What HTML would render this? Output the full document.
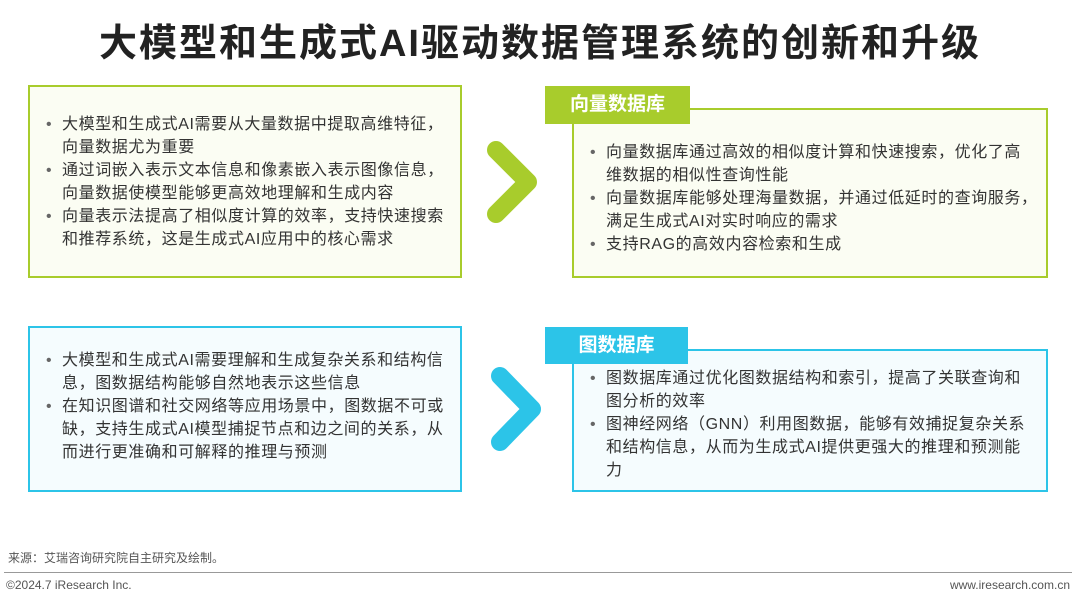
<!DOCTYPE html>
<html><head><meta charset="utf-8"><style>
body{margin:0;width:1080px;height:601px;background:#fff;position:relative;overflow:hidden;font-family:"Liberation Sans","Noto Sans CJK SC",sans-serif;color:#333}
.t{position:absolute;left:0;width:1080px;top:12px;text-align:center;font-size:38px;font-weight:bold;color:#222;letter-spacing:2px}
.box{position:absolute;box-sizing:border-box;border:2px solid;font-size:16px;line-height:23px;letter-spacing:0.6px;white-space:nowrap}
.g{border-color:#a8cc2c;background:#fbfdf3}
.b{border-color:#2cc4e8;background:#f5fcfe}
ul{margin:0;padding:0;list-style:none}
li{position:relative;padding-left:18px}
li:before{content:"•";position:absolute;left:2px;color:#666}
.lab{position:absolute;color:#fff;font-weight:bold;font-size:19px;text-align:center;box-sizing:border-box}
</style></head><body>
<div class="t">大模型和生成式AI驱动数据管理系统的创新和升级</div>

<div class="box g" style="left:28px;top:85px;width:434px;height:193px;padding:26px 14px 0 14px"><ul>
<li>大模型和生成式AI需要从大量数据中提取高维特征，<br>向量数据尤为重要</li>
<li>通过词嵌入表示文本信息和像素嵌入表示图像信息，<br>向量数据使模型能够更高效地理解和生成内容</li>
<li>向量表示法提高了相似度计算的效率，支持快速搜索<br>和推荐系统，这是生成式AI应用中的核心需求</li></ul></div>

<svg style="position:absolute;left:484px;top:140px" width="60" height="84"><polyline points="12,10 44,42 12,74" fill="none" stroke="#a8cc2c" stroke-width="18" stroke-linejoin="round" stroke-linecap="round"/></svg>

<div class="box g" style="left:572px;top:108px;width:476px;height:170px;padding:31px 14px 0 14px"><ul>
<li>向量数据库通过高效的相似度计算和快速搜索，优化了高<br>维数据的相似性查询性能</li>
<li>向量数据库能够处理海量数据，并通过低延时的查询服务，<br>满足生成式AI对实时响应的需求</li>
<li>支持RAG的高效内容检索和生成</li></ul></div>
<div class="lab" style="left:545px;top:86px;width:145px;height:38px;line-height:38px;background:#a8cc2c">向量数据库</div>

<div class="box b" style="left:28px;top:326px;width:434px;height:166px;padding:21px 14px 0 14px"><ul>
<li>大模型和生成式AI需要理解和生成复杂关系和结构信<br>息，图数据结构能够自然地表示这些信息</li>
<li>在知识图谱和社交网络等应用场景中，图数据不可或<br>缺，支持生成式AI模型捕捉节点和边之间的关系，从<br>而进行更准确和可解释的推理与预测</li></ul></div>

<svg style="position:absolute;left:488px;top:366px" width="60" height="86"><polyline points="12,10 44,43 12,76" fill="none" stroke="#2cc4e8" stroke-width="18" stroke-linejoin="round" stroke-linecap="round"/></svg>

<div class="box b" style="left:572px;top:349px;width:476px;height:143px;padding:16px 14px 0 14px"><ul>
<li>图数据库通过优化图数据结构和索引，提高了关联查询和<br>图分析的效率</li>
<li>图神经网络（GNN）利用图数据，能够有效捕捉复杂关系<br>和结构信息，从而为生成式AI提供更强大的推理和预测能<br>力</li></ul></div>
<div class="lab" style="left:545px;top:327px;width:143px;height:37px;line-height:37px;background:#2cc4e8">图数据库</div>

<div style="position:absolute;left:8px;top:549px;font-size:12px;color:#555">来源：艾瑞咨询研究院自主研究及绘制。</div>
<div style="position:absolute;left:4px;top:572px;width:1068px;border-top:1px solid #999"></div>
<div style="position:absolute;left:6px;top:578px;font-size:12px;color:#555">©2024.7 iResearch Inc.</div>
<div style="position:absolute;right:10px;top:578px;font-size:12px;color:#555">www.iresearch.com.cn</div>
</body></html>
